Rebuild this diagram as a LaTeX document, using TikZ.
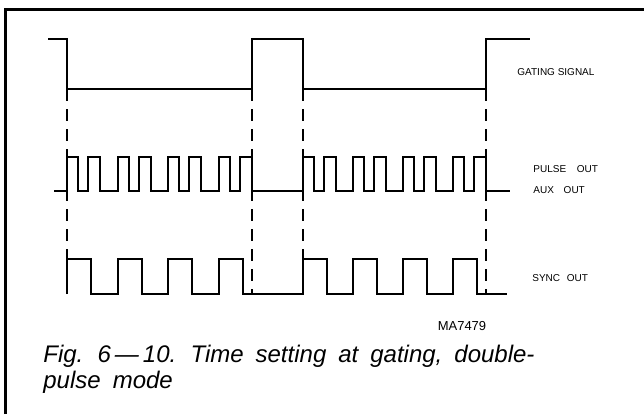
\documentclass[tikz,border=0pt]{standalone}
\usepackage{fontspec}
\setmainfont{Liberation Sans}
\usetikzlibrary{positioning}
\tikzset{
  sig/.style={line width=1pt,line join=miter},
  guide/.style={line width=0.8pt,dash pattern=on 6pt off 4pt},
  lbl/.style={font=\fontsize{5}{6}\selectfont,anchor=west,inner sep=0pt},
  capt/.style={font={\fontsize{12}{13}\selectfont\itshape\spaceskip=6pt\relax},anchor=west,inner sep=0pt}
}

\begin{document}
\begin{tikzpicture}[x=0.5pt,y=-0.5pt]
\useasboundingbox (0,0) rectangle (644,414);
% frame
\draw[line width=1.5pt] (5,414) -- (5,9) -- (644,9);
% gating signal
\draw[sig] (48,39) -- (67,39) -- (67,89) -- (252,89) -- (252,39) -- (303,39)
  -- (303,89) -- (486,89) -- (486,39) -- (530,39);
% guide lines
\foreach \x in {67,252,303,486}
  \draw[guide] (\x,89) -- (\x,294);
% pulse out / aux out
\draw[sig] (54,191)
  \foreach \t in {67,118,168,219} {
    -- (\t,191) -- (\t,157) -- (\t+11,157) -- (\t+11,191)
    -- (\t+21,191) -- (\t+21,157) -- (\t+33,157) -- (\t+33,191) }
  \foreach \t in {303,353,403,453} {
    -- (\t,191) -- (\t,157) -- (\t+11,157) -- (\t+11,191)
    -- (\t+21,191) -- (\t+21,157) -- (\t+33,157) -- (\t+33,191) }
  -- (510,191);
% sync out
\draw[sig] (67,294)
  \foreach \t in {67,118,168,219,303,353,403,453} {
    -- (\t,294) -- (\t,259) -- (\t+24,259) -- (\t+24,294) }
  -- (507,294);
% labels
\node[lbl] (gate) at (517,72) {GATING SIGNAL};
\node[lbl] (pulse) at (533,169) {PULSE\hspace{4pt} OUT};
\node[lbl] (aux) at (533,190) {AUX\hspace{3.5pt} OUT};
\node[lbl] (sync) at (532,278) {SYNC\hspace{2pt} OUT};
\node[font=\fontsize{6.5}{7}\selectfont,inner sep=0pt] (code) at (462,326) {MA7479};
\node[capt] (cap1) at (43,356) {Fig. 6\,—\,10. Time setting at gating, double-};
\node[capt] (cap2) at (43,382) {pulse mode};
\end{tikzpicture}
\end{document}
